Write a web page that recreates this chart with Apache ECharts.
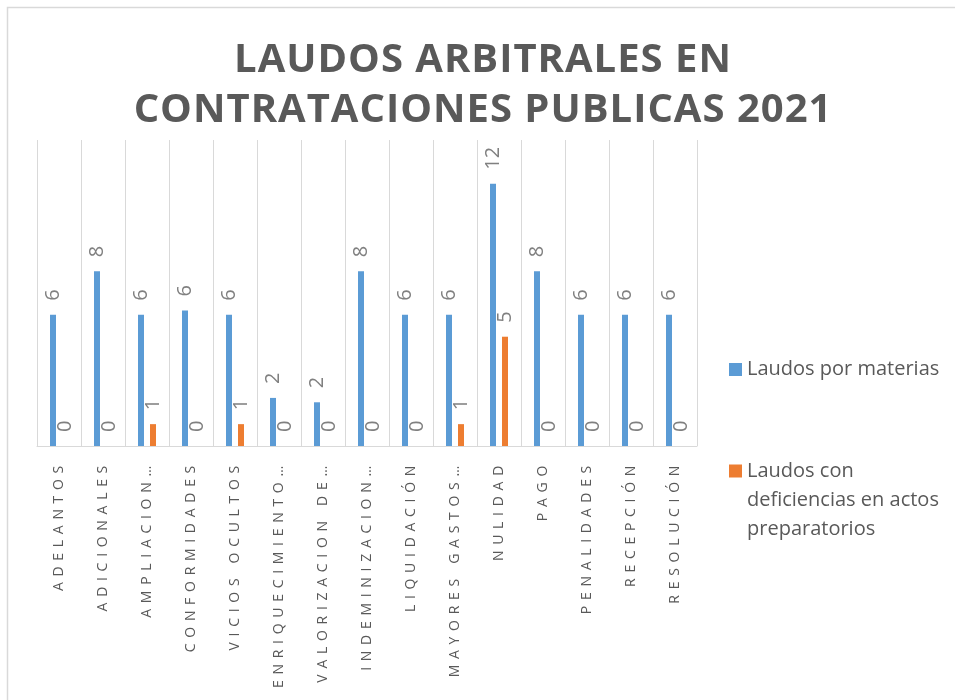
<!DOCTYPE html>
<html>
<head>
<meta charset="utf-8">
<script src="https://cdn.jsdelivr.net/npm/echarts@6.0.0/dist/echarts.min.js"></script>
<style>
  html, body { margin: 0; padding: 0; background: #fff; }
  #main { width: 955px; height: 700px; }
</style>
</head>
<body>
<div id="main"></div>
<script>
var materias = ['ADELANTOS', 'ADICIONALES', 'AMPLIACION…', 'CONFORMIDADES', 'VICIOS OCULTOS',
  'ENRIQUECIMIENTO…', 'VALORIZACION DE…', 'INDEMINIZACION…', 'LIQUIDACIÓN', 'MAYORES GASTOS…',
  'NULIDAD', 'PAGO', 'PENALIDADES', 'RECEPCIÓN', 'RESOLUCIÓN'];
var laudosPorMaterias = [6, 8, 6, 6.2, 6, 2.2, 2, 8, 6, 6, 12, 8, 6, 6, 6];
var laudosConDeficiencias = [0, 0, 1, 0, 1, 0, 0, 0, 0, 1, 5, 0, 0, 0, 0];
var tituloLineas = ['LAUDOS ARBITRALES EN', 'CONTRATACIONES PUBLICAS 2021'];
var serieNombres = ['Laudos por materias', 'Laudos con\ndeficiencias en actos\npreparatorios'];

// espaciado entre letras como en el original (titulo y etiquetas del eje)
var espaciado = {};
tituloLineas.forEach(function (t) { espaciado[t] = '1px'; });
materias.forEach(function (t) { espaciado[t] = '5.7px'; });
var fillOrig = CanvasRenderingContext2D.prototype.fillText;
CanvasRenderingContext2D.prototype.fillText = function (txt) {
  var s = espaciado[txt];
  if (s && 'letterSpacing' in this) {
    var f = this.font;
    this.save();
    this.letterSpacing = s;
    this.font = f;
    fillOrig.apply(this, arguments);
    this.letterSpacing = '0px';
    this.restore();
    this.font = f;
    return;
  }
  return fillOrig.apply(this, arguments);
};

var myChart = echarts.init(document.getElementById('main'), null, { width: 955, height: 700 });

var option = {
  backgroundColor: '#fff',
  textStyle: { fontFamily: 'Open Sans' },
  title: {
    text: tituloLineas.join('\n'),
    left: 478,
    textAlign: 'center',
    top: 31,
    textStyle: {
      fontFamily: 'Open Sans',
      fontSize: 40,
      fontWeight: 'bold',
      color: '#595959',
      lineHeight: 50
    }
  },
  graphic: [{
    type: 'rect',
    z: -1,
    silent: true,
    shape: { x: 7.5, y: 7.5, width: 2000, height: 2000 },
    style: { fill: 'none', stroke: '#d9d9d9', lineWidth: 1.5 }
  }],
  legend: {
    orient: 'vertical',
    left: 724,
    top: 350,
    itemWidth: 13,
    itemHeight: 13,
    itemGap: 14.5,
    icon: 'rect',
    textStyle: { fontSize: 20, color: '#595959', lineHeight: 29 },
    // el cuadrado va junto a la primera linea del texto
    formatter: function (name) {
      return name.indexOf('\n') > 0 ? '\n\n' + name : name;
    },
    data: serieNombres
  },
  grid: { left: 37, right: 258, top: 140, bottom: 254, containLabel: false },
  xAxis: {
    type: 'category',
    data: materias,
    axisLine: { lineStyle: { color: '#d9d9d9', width: 1 } },
    axisTick: { show: false },
    splitLine: { show: true, interval: 0, lineStyle: { color: '#d9d9d9', width: 1 } },
    axisLabel: {
      interval: 0,
      rotate: 90,
      margin: 14,
      fontSize: 14,
      color: '#595959'
    }
  },
  yAxis: { type: 'value', min: 0, max: 14, show: false },
  series: [
    {
      name: serieNombres[0],
      type: 'bar',
      barWidth: 6,
      barGap: '100%',
      itemStyle: { color: '#5b9bd5' },
      label: {
        show: true,
        position: 'top',
        rotate: 90,
        align: 'left',
        verticalAlign: 'middle',
        distance: 14,
        fontSize: 20,
        color: '#808080',
        formatter: function (p) { return Math.round(p.value); }
      },
      data: laudosPorMaterias
    },
    {
      name: serieNombres[1],
      type: 'bar',
      barWidth: 6,
      itemStyle: { color: '#ed7d31' },
      label: {
        show: true,
        position: 'top',
        rotate: 90,
        align: 'left',
        verticalAlign: 'middle',
        distance: 14,
        fontSize: 20,
        color: '#808080'
      },
      data: laudosConDeficiencias
    }
  ]
};
myChart.setOption(option);
</script>
</body>
</html>
